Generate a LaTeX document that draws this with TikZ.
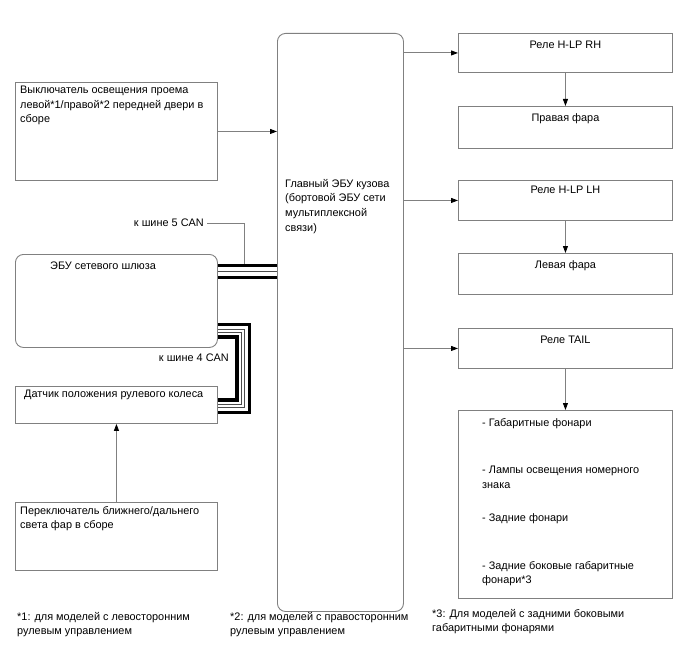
\documentclass[tikz,border=0pt]{standalone}
\usepackage{fontspec}
\setmainfont{Liberation Sans}
\usetikzlibrary{arrows.meta}
\begin{document}
\begin{tikzpicture}[x=1pt,y=-1pt,
  every node/.style={font=\fontsize{10.9}{14.6}\selectfont, inner sep=0pt, text=black},
  box/.style={draw=black!50, line width=0.9pt, anchor=north west},
  rbox/.style={box, rounded corners=8pt},
  txt/.style={anchor=north west, align=left},
  ctxt/.style={anchor=north, align=center},
  conn/.style={draw=black!50, line width=0.9pt},
  arr/.style={conn, -{Triangle[length=7pt,width=5pt,fill=black,color=black]}},
  busthick/.style={draw=black, line width=3.6pt},
  busthin/.style={draw=black!70, line width=0.8pt}]
\useasboundingbox (0,0) rectangle (688,658);
% left boxes
\node[box, minimum width=202pt, minimum height=98pt] (sw) at (15,82) {};
\node[txt] (swt) at (20,86) {Выключатель освещения проема\\левой*1/правой*2 передней двери в\\сборе};
\node[rbox, minimum width=202pt, minimum height=93pt] (gw) at (15,254) {};
\node[txt] (gwt) at (50,262) {ЭБУ сетевого шлюза};
\node[box, minimum width=202pt, minimum height=37pt] (sa) at (15,386) {};
\node[txt] (sat) at (24,390) {Датчик положения рулевого колеса};
\node[box, minimum width=202pt, minimum height=68pt] (hl) at (15,502) {};
\node[txt] (hlt) at (20,506) {Переключатель ближнего/дальнего\\света фар в сборе};
% main ECU
\node[rbox, minimum width=126pt, minimum height=578pt] (main) at (277,33) {};
\node[txt] (maint) at (285,179) {Главный ЭБУ кузова\\(бортовой ЭБУ сети\\мультиплексной\\связи)};
% right boxes
\node[box, minimum width=214pt, minimum height=39pt] (r1) at (458,33) {};
\node[ctxt] at (r1.north) [yshift=-8pt] {Реле H-LP RH};
\node[box, minimum width=214pt, minimum height=42pt] (f1) at (458,106) {};
\node[ctxt] at (f1.north) [yshift=-7pt] {Правая фара};
\node[box, minimum width=214pt, minimum height=40pt] (r2) at (458,180) {};
\node[ctxt] at (r2.north) [yshift=-6pt] {Реле H-LP LH};
\node[box, minimum width=214pt, minimum height=41pt] (f2) at (458,253) {};
\node[ctxt] at (f2.north) [yshift=-7pt] {Левая фара};
\node[box, minimum width=214pt, minimum height=40pt] (r3) at (458,328) {};
\node[ctxt] at (r3.north) [yshift=-8pt] {Реле TAIL};
\node[box, minimum width=214pt, minimum height=188pt] (lp) at (458,410) {};
\node[txt] (l1) at (482,418) {- Габаритные фонари};
\node[txt] (l2) at (482,466) {- Лампы освещения номерного\\знака};
\node[txt] (l3) at (482,513) {- Задние фонари};
\node[txt] (l4) at (482,561) {- Задние боковые габаритные\\фонари*3};
% arrows
\draw[arr] (sw.east) -- (main.west |- sw.east);
\draw[arr] (main.east |- r1.west) -- (r1.west);
\draw[arr] (main.east |- r2.west) -- (r2.west);
\draw[arr] (main.east |- r3.west) -- (r3.west);
\draw[arr] (r1.south) -- (f1.north);
\draw[arr] (r2.south) -- (f2.north);
\draw[arr] (r3.south) -- (lp.north);
\draw[arr] (hl.north) -- (sa.south);
% CAN 5
\node[anchor=east] (can5) at (204,223) {к шине 5 CAN};
\coordinate (c5) at (244,265);
\draw[conn] (can5.east) ++(3,0) -- (c5 |- can5.east) -- (c5);
\draw[busthick] (gw.east |- 0,265.5) -- (main.west |- 0,265.5);
\draw[busthin] (gw.east |- 0,271.5) -- (main.west |- 0,271.5);
\draw[busthick] (gw.east |- 0,277.5) -- (main.west |- 0,277.5);
% CAN 4
\node[anchor=east] (can4) at (229,358) {к шине 4 CAN};
\foreach \d/\s in {0/busthick,5/busthin,8/busthin,12.5/busthick}{
  \draw[\s, line join=miter] (gw.east |- 0,324.5+\d) -- (249.5-\d,324.5+\d) -- (249.5-\d,412.5-\d) -- (sa.east |- 0,412.5-\d);
}
% footnotes
\node[txt] (n1) at (17,612) {*1: для моделей с левосторонним\\рулевым управлением};
\node[txt] (n2) at (230,612) {*2: для моделей с правосторонним\\рулевым управлением};
\node[txt] (n3) at (432,609) {*3: Для моделей с задними боковыми\\габаритными фонарями};
\end{tikzpicture}
\end{document}
